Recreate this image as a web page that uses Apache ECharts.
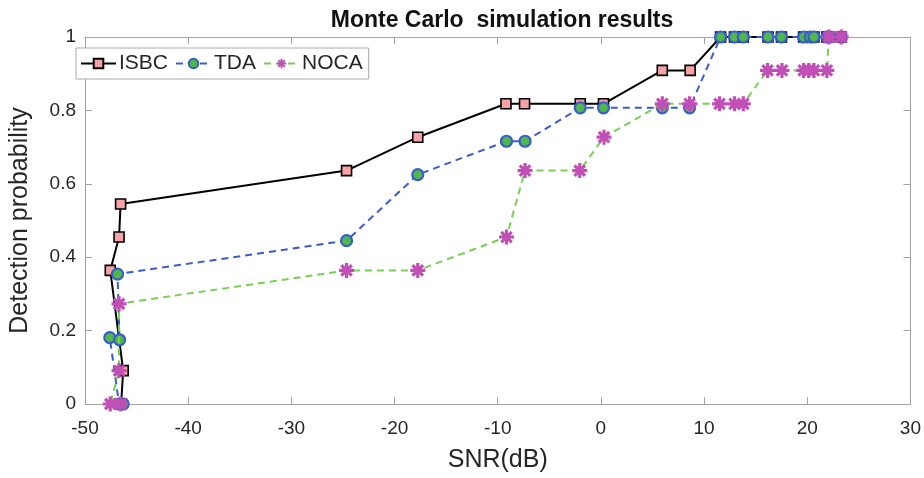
<!DOCTYPE html>
<html>
<head>
<meta charset="utf-8">
<script src="https://cdn.jsdelivr.net/npm/echarts@6/dist/echarts.min.js"></script>
<style>
  html, body { margin: 0; padding: 0; background: #ffffff; }
  #chart { width: 924px; height: 478px; }
</style>
</head>
<body>
<div id="chart"></div>
<script>
// SNR (dB) and detection probability for each detector
const snrIsbc = [-46.5, -46.3, -47.55, -46.7, -46.55, -24.65, -17.75, -9.2, -7.4, -2.0, 0.25, 5.95, 8.65,
                 11.6, 12.95, 13.8, 16.2, 17.5, 19.65, 20.3, 20.65, 21.9, 22.1, 23.3];
const pdIsbc  = [0, 0.091, 0.364, 0.455, 0.545, 0.636, 0.727, 0.818, 0.818, 0.818, 0.818, 0.909, 0.909,
                 1, 1, 1, 1, 1, 1, 1, 1, 1, 1, 1];

const snrTda = [-46.3, -46.7, -47.6, -46.65, -46.85, -24.65, -17.75, -9.15, -7.35, -2.0, 0.25, 5.95, 8.6,
                11.6, 12.95, 13.8, 16.2, 17.5, 19.65, 20.3, 20.65, 21.9, 22.1, 23.3];
const pdTda  = [0, 0, 0.181, 0.175, 0.354, 0.445, 0.625, 0.716, 0.716, 0.807, 0.807, 0.807, 0.807,
                1, 1, 1, 1, 1, 1, 1, 1, 1, 1, 1];

const snrNoca = [-46.55, -47.55, -46.7, -46.7, -24.65, -17.75, -9.15, -7.35, -2.05, 0.3, 5.95, 8.6,
                 11.5, 12.95, 13.8, 16.15, 17.55, 19.65, 20.15, 20.65, 21.9, 22.1, 23.3];
const pdNoca  = [0, 0, 0.091, 0.273, 0.364, 0.364, 0.455, 0.636, 0.636, 0.727, 0.818, 0.818,
                 0.818, 0.818, 0.818, 0.909, 0.909, 0.909, 0.909, 0.909, 0.909, 1, 1];

const xTicks = { min: -50, max: 30, interval: 10 };
const yTicks = { min: 0, max: 1, interval: 0.2 };

const FONT = '"Liberation Sans", Arial, Helvetica, sans-serif';
const AXIS_GREY = '#a3a3a3';
const TEXT = '#262626';

function pairs(xs, ys) {
  return xs.map((x, i) => [x, ys[i]]);
}

// eight-armed asterisk marker drawn as strokes
const ASTERISK = 'path://M10,0L10,20M0,10L20,10M3,3L17,17M3,17L17,3';

const chart = echarts.init(document.getElementById('chart'), null, { renderer: 'canvas' });

const baseX = {
  type: 'value', min: xTicks.min, max: xTicks.max, interval: xTicks.interval,
  splitLine: { show: false },
  axisLine: { show: true, onZero: false, lineStyle: { color: AXIS_GREY, width: 1 } },
  axisTick: { show: true, inside: true, length: 7, lineStyle: { color: AXIS_GREY } }
};
const baseY = {
  type: 'value', min: yTicks.min, max: yTicks.max, interval: yTicks.interval,
  splitLine: { show: false },
  axisLine: { show: true, onZero: false, lineStyle: { color: AXIS_GREY, width: 1 } },
  axisTick: { show: true, inside: true, length: 7, lineStyle: { color: AXIS_GREY } }
};

chart.setOption({
  animation: false,
  backgroundColor: '#ffffff',
  title: {
    text: 'Monte Carlo  simulation results',
    left: 497, top: 4, textAlign: 'center',
    textStyle: { fontFamily: FONT, fontSize: 23, fontWeight: 'bold', color: '#111111' }
  },
  legend: {
    left: 76, top: 48,
    orient: 'horizontal',
    backgroundColor: '#ffffff',
    borderColor: '#aaaaaa', borderWidth: 1,
    padding: [5, 6, 5, 4],
    itemGap: 7,
    itemWidth: 35, itemHeight: 12,
    textStyle: { fontFamily: FONT, fontSize: 21, color: TEXT, padding: [0, 0, 0, -2] },
    data: ['ISBC', 'TDA', 'NOCA']
  },
  grid: { left: 74, right: 13, top: 37, bottom: 70, containLabel: false },
  xAxis: [
    Object.assign({}, baseX, {
      position: 'bottom',
      axisLabel: { color: TEXT, fontFamily: FONT, fontSize: 19, margin: 15 },
      name: 'SNR(dB)', nameLocation: 'middle', nameGap: 44,
      nameTextStyle: { fontFamily: FONT, fontSize: 25, color: TEXT }
    }),
    Object.assign({}, baseX, { position: 'top', axisLabel: { show: false } })
  ],
  yAxis: [
    Object.assign({}, baseY, {
      position: 'left',
      axisLabel: { color: TEXT, fontFamily: FONT, fontSize: 19, margin: 9 },
      name: 'Detection probability', nameLocation: 'middle', nameGap: 52,
      nameTextStyle: { fontFamily: FONT, fontSize: 25, color: TEXT }
    }),
    Object.assign({}, baseY, { position: 'right', axisLabel: { show: false } })
  ],
  series: [
    {
      name: 'ISBC', type: 'line',
      data: pairs(snrIsbc, pdIsbc),
      symbol: 'rect', symbolSize: 10,
      lineStyle: { color: '#000000', width: 2, type: 'solid' },
      itemStyle: { color: '#f7a2a6', borderColor: '#000000', borderWidth: 1.6 },
      z: 2
    },
    {
      name: 'TDA', type: 'line',
      data: pairs(snrTda, pdTda),
      symbol: 'circle', symbolSize: 11,
      lineStyle: { color: '#3a5ccc', width: 2, type: [7, 5] },
      itemStyle: { color: '#4fb84a', borderColor: '#3a5ccc', borderWidth: 2.2 },
      z: 3
    },
    {
      name: 'NOCA', type: 'line',
      data: pairs(snrNoca, pdNoca),
      symbol: ASTERISK, symbolSize: 15,
      lineStyle: { color: '#77d055', width: 2, type: [7, 5] },
      itemStyle: { color: '#c24fb5', borderColor: '#c24fb5', borderWidth: 3.2 },
      z: 4
    }
  ]
});
</script>
</body>
</html>
